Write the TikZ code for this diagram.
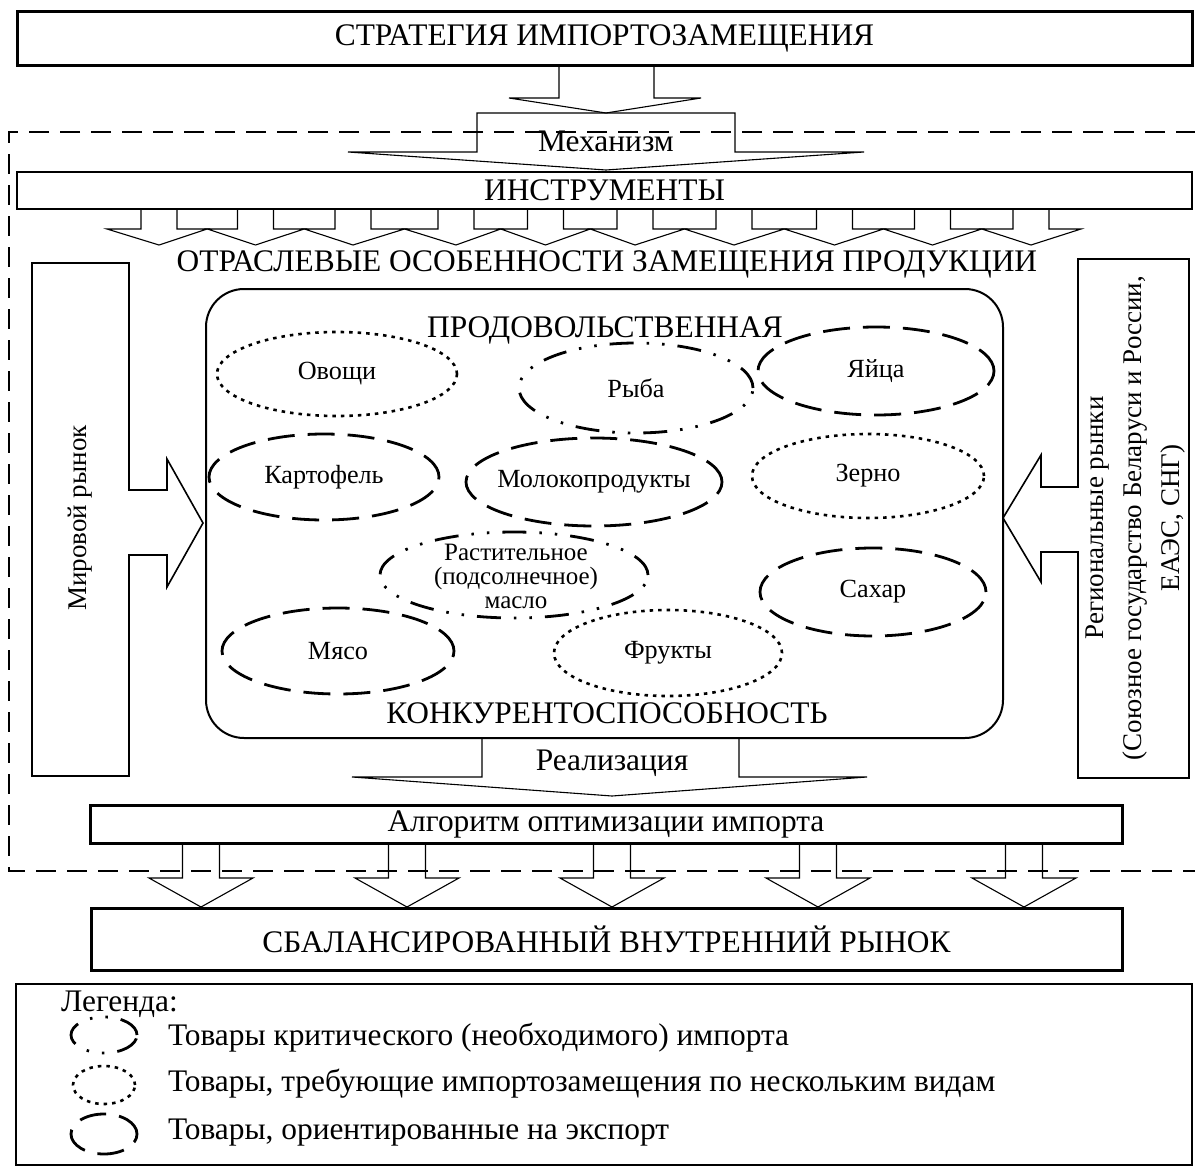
\documentclass[tikz,border=0pt]{standalone}
\usepackage{fontspec}
\setmainfont{Liberation Serif}
\usetikzlibrary{shapes.geometric}
\tikzset{
  every node/.style={inner sep=0pt, outer sep=0pt},
  head/.style={font=\fontsize{31.4}{35}\selectfont},
  lbl/.style={font=\fontsize{26.2}{27}\selectfont, align=center},
  side/.style={font=\fontsize{27}{38}\selectfont, align=center, rotate=90},
  leg/.style={font=\fontsize{31.4}{35}\selectfont, anchor=west},
  blk/.style={draw, line width=1.1pt, line join=miter},
  thickbox/.style={draw, line width=3pt},
  midbox/.style={draw, line width=2pt},
  dashedframe/.style={draw, line width=2pt, dash pattern=on 20pt off 11pt},
  ell/.style={draw, ellipse, line width=2.8pt},
  expo/.style={ell, dash pattern=on 27pt off 13pt},
  need/.style={ell, line width=2.6pt, dash pattern=on 3.5pt off 5pt},
  crit/.style={ell, dash pattern=on 24pt off 13pt on 2.5pt off 13pt on 2.5pt off 13pt},
}
\begin{document}
\begin{tikzpicture}[x=1pt,y=-1pt]
\useasboundingbox (0,0) rectangle (1195,1167);

% dashed frame (right side beyond the picture)
\draw[dashedframe] (1196,132) -- (9,132) -- (9,871) -- (1196,871);

% top box
\node[thickbox, minimum width=1175pt, minimum height=54pt] (strat) at (604.5,38.5) {};
\node[head] (stratT) at (strat.center) {СТРАТЕГИЯ ИМПОРТОЗАМЕЩЕНИЯ};

% arrow strategy -> mechanism
\draw[blk] (559,66) -- (559,98) -- (509,98) -- (606,113) -- (701,98) -- (654,98) -- (654,66);

% mechanism arrow
\draw[blk] (477,113) -- (735,113) -- (735,152) -- (864,152) -- (606,170) -- (348,152) -- (477,152) -- cycle;
\node[head] (mechT) at (606,141) {Механизм};

% instruments
\node[midbox, minimum width=1175pt, minimum height=37pt] (instr) at (604.5,190.5) {};
\node[head] (instrT) at (instr.center) {ИНСТРУМЕНТЫ};

\foreach \c/\l/\r in {159/107/207.25, 255.5/207.25/304.25, 353/304.25/404.5, 456/404.5/500.75,
  545.5/500.75/590.25, 635/590.25/684.5, 734/684.5/784.25, 834.5/784.25/883.5,
  932.5/883.5/981.75, 1031/981.75/1081}
  \draw[blk] (\c-18,209) -- (\c-18,229) -- (\l,229) -- (\c,245) -- (\r,229) -- (\c+18,229) -- (\c+18,209);

\node[head] (otrT) at (607,264) {ОТРАСЛЕВЫЕ ОСОБЕННОСТИ ЗАМЕЩЕНИЯ ПРОДУКЦИИ};

% world market
\draw[blk, line width=1.6pt] (32,263) -- (129,263) -- (129,490) -- (167,490) -- (167,459) -- (203,523)
  -- (167,587) -- (167,555) -- (129,555) -- (129,776) -- (32,776) -- cycle;
\node[side] (worldT) at (80,518) {Мировой рынок};

% regional markets
\draw[blk, line width=1.6pt] (1189,259) -- (1078,259) -- (1078,487) -- (1041,487) -- (1041,455) -- (1003,518)
  -- (1041,582) -- (1041,552) -- (1078,552) -- (1078,778) -- (1189,778) -- cycle;
\node[side] (regT) at (1136,518) {Региональные рынки\\(Союзное государство Беларуси и России,\\ЕАЭС, СНГ)};

% food block
\draw[line width=2pt, rounded corners=38pt] (206,289) rectangle (1003,738);
\node[head] (foodT) at (605,330) {ПРОДОВОЛЬСТВЕННАЯ};
\node[head] (compT) at (607,713) {КОНКУРЕНТОСПОСОБНОСТЬ};

% ellipses
\node[need, minimum width=240pt, minimum height=84pt] (eOv) at (337,374) {};
\node[lbl] at (eOv.center) {Овощи};
\node[crit, minimum width=234pt, minimum height=90pt] (eRy) at (636,388) {};
\node[lbl] at (eRy.center) {Рыба};
\node[expo, minimum width=236pt, minimum height=88pt] (eYa) at (876,371) {};
\node[lbl] at (eYa.center) {Яйца};
\node[expo, minimum width=230pt, minimum height=86pt] (eKa) at (324,477) {};
\node[lbl] at (eKa.center) {Картофель};
\node[expo, minimum width=256pt, minimum height=88pt] (eMo) at (594,482) {};
\node[lbl] at (eMo.center) {Молокопродукты};
\node[need, minimum width=232pt, minimum height=84pt] (eZe) at (868,476) {};
\node[lbl] at (eZe.center) {Зерно};
\node[crit, minimum width=268pt, minimum height=86pt] (eRa) at (514,575) {};
\node[lbl, font=\fontsize{25}{24}\selectfont] at (516,576) {Растительное\\(подсолнечное)\\масло};
\node[expo, minimum width=226pt, minimum height=88pt] (eSa) at (873,592) {};
\node[lbl] at (eSa.center) {Сахар};
\node[expo, minimum width=232pt, minimum height=86pt] (eMy) at (338,651) {};
\node[lbl] at (eMy.center) {Мясо};
\node[need, minimum width=228pt, minimum height=86pt] (eFr) at (668,653) {};
\node[lbl] at (eFr.center) {Фрукты};

% realisation arrow
\draw[blk] (482,738) -- (482,777) -- (352,777) -- (612,796) -- (867,777) -- (739,777) -- (739,738);
\node[head] (realT) at (612,763) {Реализация};

% algorithm
\node[thickbox, minimum width=1032pt, minimum height=38pt] (algo) at (606,824) {};
\node[head] (algoT) at (algo.center) {Алгоритм оптимизации импорта};

\foreach \c in {201,407,612,818,1024}
  \draw[blk] (\c-18.5,843) -- (\c-18.5,878) -- (\c-52,878) -- (\c,907) -- (\c+52,878) -- (\c+18.5,878) -- (\c+18.5,843);

% balanced market
\node[thickbox, minimum width=1031pt, minimum height=62pt] (bal) at (606.5,939) {};
\node[head] (balT) at (bal.center) {СБАЛАНСИРОВАННЫЙ ВНУТРЕННИЙ РЫНОК};

% legend
\draw[line width=1.5pt] (16,984) rectangle (1192,1165);
\node[leg] (legT) at (61,1004) {Легенда:};
\node[crit, minimum width=66pt, minimum height=36pt] (iCr) at (104,1035) {};
\node[leg] at (168,1038) {Товары критического (необходимого) импорта};
\node[need, minimum width=62pt, minimum height=38pt] (iNe) at (104,1085) {};
\node[leg] at (168,1084) {Товары, требующие импортозамещения по нескольким видам};
\node[expo, minimum width=66pt, minimum height=40pt] (iEx) at (104,1134) {};
\node[leg] at (168,1133) {Товары, ориентированные на экспорт};
\end{tikzpicture}
\end{document}
